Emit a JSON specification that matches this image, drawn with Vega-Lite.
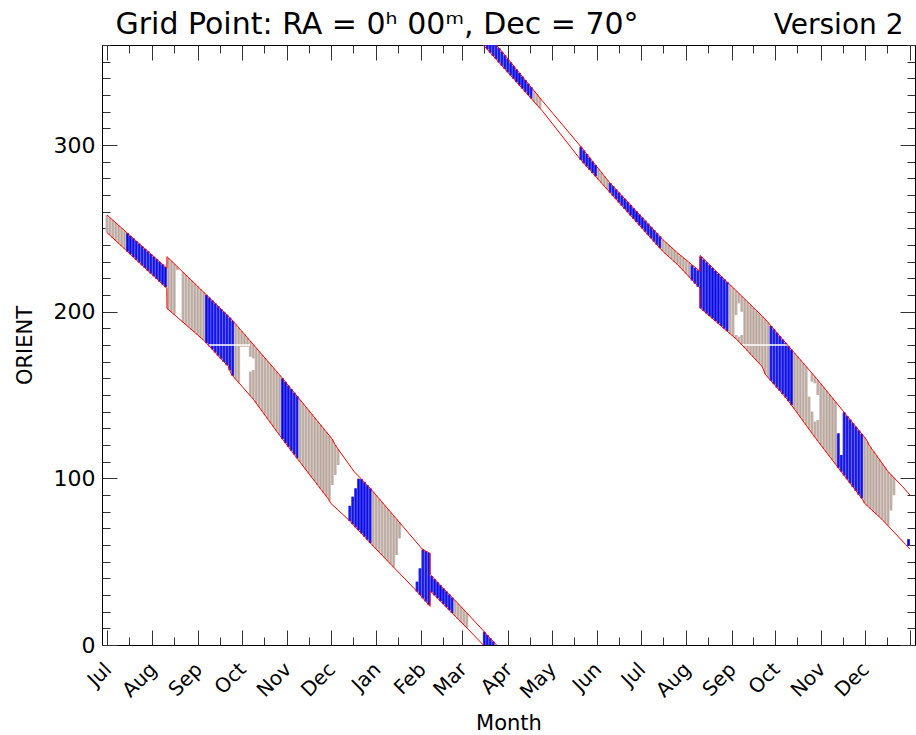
{
  "$schema": "https://vega.github.io/schema/vega-lite/v6.json",
  "width": 813,
  "height": 600,
  "autosize": "none",
  "padding": {"left": 102, "top": 45, "right": 1, "bottom": 90},
  "background": "white",
  "config": {
    "view": {"stroke": null},
    "font": "DejaVu Sans",
    "axis": {"grid": false, "domainColor": "#000000", "domainWidth": 1, "tickColor": "#333333", "tickWidth": 1, "labelColor": "#000000", "titleColor": "#000000", "titleFontWeight": "normal", "labelFont": "DejaVu Sans", "titleFont": "DejaVu Sans", "zindex": 1}
  },
  "datasets": {
    "bars": [
      {"d":0,"lo":247.5,"hi":258,"c":"t"},{"d":2,"lo":245.9,"hi":256.4,"c":"t"},{"d":4,"lo":244.2,"hi":254.9,"c":"t"},{"d":6,"lo":242.6,"hi":253.3,"c":"t"},{"d":8,"lo":240.9,"hi":251.8,"c":"t"},{"d":10,"lo":239.3,"hi":250.2,"c":"t"},{"d":12,"lo":237.7,"hi":248.6,"c":"t"},
      {"d":14,"lo":236.0,"hi":247.1,"c":"b"},{"d":16,"lo":234.4,"hi":245.5,"c":"b"},{"d":18,"lo":232.7,"hi":244.0,"c":"b"},{"d":20,"lo":231.1,"hi":242.4,"c":"b"},{"d":22,"lo":229.5,"hi":240.8,"c":"b"},{"d":24,"lo":227.8,"hi":239.3,"c":"b"},{"d":26,"lo":226.2,"hi":237.7,"c":"b"},{"d":28,"lo":224.5,"hi":236.2,"c":"b"},{"d":30,"lo":222.9,"hi":234.6,"c":"b"},{"d":32,"lo":221.3,"hi":233.0,"c":"b"},{"d":34,"lo":219.6,"hi":231.5,"c":"b"},{"d":36,"lo":218.0,"hi":229.9,"c":"b"},{"d":38,"lo":216.3,"hi":228.4,"c":"b"},{"d":40,"lo":214.7,"hi":226.8,"c":"b"},
      {"d":42,"lo":201.2,"hi":232.2,"c":"t"},{"d":44,"lo":199.7,"hi":230.5,"c":"t"},{"d":46,"lo":198.2,"hi":228.8,"c":"t"},{"d":48,"lo":225.0,"hi":227.1,"c":"t"},{"d":52,"lo":193.6,"hi":223.7,"c":"t"},{"d":54,"lo":192.1,"hi":222.0,"c":"t"},{"d":56,"lo":190.6,"hi":220.3,"c":"t"},{"d":58,"lo":189.1,"hi":218.6,"c":"t"},{"d":60,"lo":187.6,"hi":216.9,"c":"t"},{"d":62,"lo":186.0,"hi":215.2,"c":"t"},{"d":64,"lo":184.5,"hi":213.5,"c":"t"},{"d":66,"lo":183.0,"hi":211.8,"c":"t"},
      {"d":68,"lo":181.1,"hi":210.1,"c":"b"},{"d":70,"lo":179.2,"hi":208.4,"c":"b"},{"d":72,"lo":177.4,"hi":206.7,"c":"b"},{"d":74,"lo":175.5,"hi":205.0,"c":"b"},{"d":76,"lo":173.6,"hi":203.3,"c":"b"},{"d":78,"lo":171.7,"hi":201.6,"c":"b"},{"d":80,"lo":169.8,"hi":199.9,"c":"b"},{"d":82,"lo":167.9,"hi":198.2,"c":"b"},{"d":84,"lo":164.8,"hi":196.4,"c":"b"},{"d":86,"lo":161.5,"hi":194.5,"c":"b"},
      {"d":88,"lo":159.5,"hi":192.5,"c":"t"},{"d":90,"lo":157.5,"hi":190.4,"c":"t"},{"d":92,"lo":179,"hi":188.4,"c":"t"},{"d":94,"lo":179,"hi":186.4,"c":"t"},{"d":96,"lo":179,"hi":184.3,"c":"t"},{"d":98,"lo":149.5,"hi":164,"c":"t"},{"d":98,"lo":173,"hi":182.3,"c":"t"},{"d":100,"lo":147.5,"hi":165,"c":"t"},{"d":100,"lo":172,"hi":180.3,"c":"t"},{"d":102,"lo":145.1,"hi":178.3,"c":"t"},{"d":104,"lo":142.7,"hi":176.2,"c":"t"},{"d":106,"lo":140.3,"hi":174.2,"c":"t"},{"d":108,"lo":137.9,"hi":172.2,"c":"t"},{"d":110,"lo":135.5,"hi":170.1,"c":"t"},{"d":112,"lo":133.1,"hi":168.1,"c":"t"},{"d":114,"lo":130.7,"hi":166.1,"c":"t"},{"d":116,"lo":128.3,"hi":164.1,"c":"t"},{"d":118,"lo":125.9,"hi":162.0,"c":"t"},
      {"d":120,"lo":123.5,"hi":160.0,"c":"b"},{"d":122,"lo":121.2,"hi":157.9,"c":"b"},{"d":124,"lo":118.9,"hi":155.7,"c":"b"},{"d":126,"lo":116.6,"hi":153.6,"c":"b"},{"d":128,"lo":114.3,"hi":151.4,"c":"b"},{"d":130,"lo":112.0,"hi":149.3,"c":"b"},
      {"d":132,"lo":109.8,"hi":147.1,"c":"t"},{"d":134,"lo":107.5,"hi":145.0,"c":"t"},{"d":136,"lo":105.2,"hi":142.8,"c":"t"},{"d":138,"lo":102.9,"hi":140.7,"c":"t"},{"d":140,"lo":100.6,"hi":138.5,"c":"t"},{"d":142,"lo":98.3,"hi":136.4,"c":"t"},{"d":144,"lo":96.0,"hi":134.2,"c":"t"},{"d":146,"lo":93.7,"hi":132.1,"c":"t"},{"d":148,"lo":91.4,"hi":129.9,"c":"t"},{"d":150,"lo":89.1,"hi":127.8,"c":"t"},{"d":152,"lo":86.6,"hi":125.6,"c":"t"},{"d":154,"lo":96,"hi":123.5,"c":"t"},{"d":156,"lo":102,"hi":120.0,"c":"t"},{"d":158,"lo":108,"hi":117.5,"c":"t"},
      {"d":166,"lo":74.4,"hi":83.5,"c":"b"},{"d":168,"lo":72.5,"hi":89,"c":"b"},{"d":170,"lo":70.6,"hi":94,"c":"b"},{"d":172,"lo":68.8,"hi":99.7,"c":"b"},{"d":174,"lo":66.9,"hi":99.5,"c":"b"},{"d":176,"lo":65.0,"hi":97.7,"c":"b"},{"d":178,"lo":63.1,"hi":95.9,"c":"b"},{"d":180,"lo":61.2,"hi":94.0,"c":"b"},
      {"d":182,"lo":59.4,"hi":91.9,"c":"t"},{"d":184,"lo":57.6,"hi":89.9,"c":"t"},{"d":186,"lo":55.8,"hi":87.8,"c":"t"},{"d":188,"lo":53.9,"hi":85.8,"c":"t"},{"d":190,"lo":52.1,"hi":83.7,"c":"t"},{"d":192,"lo":50.3,"hi":81.7,"c":"t"},{"d":194,"lo":48.5,"hi":79.6,"c":"t"},{"d":196,"lo":46.6,"hi":77.6,"c":"t"},{"d":198,"lo":54,"hi":75.5,"c":"t"},{"d":200,"lo":64,"hi":73.5,"c":"t"},
      {"d":212,"lo":32.0,"hi":38,"c":"b"},{"d":214,"lo":30.0,"hi":46,"c":"b"},{"d":216,"lo":28.0,"hi":57.3,"c":"b"},{"d":218,"lo":26.1,"hi":56.3,"c":"b"},{"d":220,"lo":24.1,"hi":55.3,"c":"b"},{"d":222,"lo":31.6,"hi":41.4,"c":"b"},{"d":224,"lo":29.8,"hi":39.5,"c":"b"},{"d":226,"lo":28.1,"hi":37.7,"c":"b"},{"d":228,"lo":26.3,"hi":35.9,"c":"b"},{"d":230,"lo":24.5,"hi":34.0,"c":"b"},{"d":232,"lo":22.7,"hi":32.2,"c":"b"},{"d":234,"lo":20.9,"hi":30.3,"c":"b"},{"d":236,"lo":19.2,"hi":28.5,"c":"b"},
      {"d":238,"lo":17.4,"hi":26.7,"c":"t"},{"d":240,"lo":15.6,"hi":24.8,"c":"t"},{"d":242,"lo":13.8,"hi":23.0,"c":"t"},{"d":244,"lo":12.1,"hi":21.1,"c":"t"},{"d":246,"lo":10.3,"hi":19.3,"c":"t"},
      {"d":258,"lo":0,"hi":7.9,"c":"b"},{"d":260,"lo":0,"hi":6.0,"c":"b"},{"d":262,"lo":0,"hi":4.1,"c":"b"},{"d":264,"lo":0,"hi":2.2,"c":"b"},
      {"d":258,"lo":359.3,"hi":360,"c":"b"},{"d":260,"lo":357.4,"hi":360,"c":"b"},{"d":262,"lo":355.4,"hi":360,"c":"b"},{"d":264,"lo":353.4,"hi":360,"c":"b"},{"d":266,"lo":351.5,"hi":360,"c":"b"},
      {"d":268,"lo":349.5,"hi":358.2,"c":"b"},{"d":270,"lo":347.6,"hi":356.0,"c":"b"},{"d":272,"lo":345.6,"hi":353.9,"c":"b"},{"d":274,"lo":343.6,"hi":351.8,"c":"b"},{"d":276,"lo":341.7,"hi":349.6,"c":"b"},{"d":278,"lo":339.7,"hi":347.5,"c":"b"},{"d":280,"lo":337.7,"hi":345.4,"c":"b"},{"d":282,"lo":335.8,"hi":343.2,"c":"b"},{"d":284,"lo":333.8,"hi":341.1,"c":"b"},{"d":286,"lo":331.9,"hi":339.0,"c":"b"},{"d":288,"lo":329.9,"hi":336.8,"c":"b"},{"d":290,"lo":327.9,"hi":334.7,"c":"b"},
      {"d":292,"lo":326.0,"hi":332.5,"c":"t"},{"d":294,"lo":324.0,"hi":330.4,"c":"t"},{"d":296,"lo":322.1,"hi":328.2,"c":"t"},
      {"d":324,"lo":291.0,"hi":299.0,"c":"b"},{"d":326,"lo":289.0,"hi":296.8,"c":"b"},{"d":328,"lo":287.1,"hi":294.6,"c":"b"},{"d":330,"lo":285.1,"hi":292.4,"c":"b"},{"d":332,"lo":283.2,"hi":290.2,"c":"b"},{"d":334,"lo":281.2,"hi":288.0,"c":"b"},
      {"d":336,"lo":279.2,"hi":285.8,"c":"t"},{"d":338,"lo":277.3,"hi":283.6,"c":"t"},{"d":340,"lo":275.3,"hi":281.4,"c":"t"},{"d":342,"lo":273.4,"hi":279.2,"c":"t"},
      {"d":344,"lo":271.4,"hi":277.2,"c":"b"},{"d":346,"lo":269.5,"hi":275.3,"c":"b"},{"d":348,"lo":267.5,"hi":273.4,"c":"b"},{"d":350,"lo":265.5,"hi":271.5,"c":"b"},{"d":352,"lo":263.6,"hi":269.6,"c":"b"},{"d":354,"lo":261.6,"hi":267.8,"c":"b"},{"d":356,"lo":259.7,"hi":265.9,"c":"b"},{"d":358,"lo":257.7,"hi":264.0,"c":"b"},{"d":360,"lo":255.7,"hi":262.1,"c":"b"},{"d":362,"lo":253.8,"hi":260.3,"c":"b"},{"d":364,"lo":251.8,"hi":258.4,"c":"b"},{"d":366,"lo":249.9,"hi":256.5,"c":"b"},{"d":368,"lo":247.9,"hi":254.6,"c":"b"},{"d":370,"lo":245.9,"hi":252.8,"c":"b"},{"d":372,"lo":244.0,"hi":250.9,"c":"b"},{"d":374,"lo":242.0,"hi":249.0,"c":"b"},{"d":376,"lo":240.1,"hi":247.1,"c":"b"},{"d":378,"lo":238.1,"hi":245.2,"c":"b"},
      {"d":380,"lo":236.2,"hi":243.2,"c":"t"},{"d":382,"lo":234.6,"hi":241.6,"c":"t"},{"d":384,"lo":233.1,"hi":240.1,"c":"t"},{"d":386,"lo":231.5,"hi":238.5,"c":"t"},{"d":388,"lo":229.9,"hi":236.9,"c":"t"},{"d":390,"lo":228.3,"hi":235.3,"c":"t"},{"d":392,"lo":226.4,"hi":233.8,"c":"t"},{"d":394,"lo":224.5,"hi":232.3,"c":"t"},{"d":396,"lo":222.6,"hi":230.8,"c":"t"},{"d":398,"lo":220.6,"hi":229.3,"c":"t"},
      {"d":400,"lo":218.7,"hi":227.8,"c":"b"},{"d":402,"lo":216.8,"hi":226.3,"c":"b"},{"d":404,"lo":214.9,"hi":224.8,"c":"b"},
      {"d":406,"lo":202.0,"hi":233.0,"c":"b"},{"d":408,"lo":200.5,"hi":231.3,"c":"b"},{"d":410,"lo":198.9,"hi":229.6,"c":"b"},{"d":412,"lo":197.4,"hi":227.9,"c":"b"},{"d":414,"lo":195.9,"hi":226.2,"c":"b"},{"d":416,"lo":194.4,"hi":224.5,"c":"b"},{"d":418,"lo":192.9,"hi":222.8,"c":"b"},{"d":420,"lo":191.4,"hi":221.1,"c":"b"},{"d":422,"lo":189.8,"hi":219.4,"c":"b"},{"d":424,"lo":188.3,"hi":217.7,"c":"b"},
      {"d":426,"lo":186.8,"hi":216.0,"c":"t"},{"d":428,"lo":185.3,"hi":214.3,"c":"t"},{"d":430,"lo":183.8,"hi":186,"c":"t"},{"d":430,"lo":198,"hi":212.6,"c":"t"},{"d":432,"lo":182.1,"hi":185,"c":"t"},{"d":432,"lo":205,"hi":210.9,"c":"t"},{"d":434,"lo":180.2,"hi":186,"c":"t"},{"d":434,"lo":200,"hi":209.2,"c":"t"},{"d":436,"lo":178.3,"hi":207.5,"c":"t"},{"d":438,"lo":176.4,"hi":205.8,"c":"t"},{"d":440,"lo":174.5,"hi":204.1,"c":"t"},{"d":442,"lo":172.7,"hi":202.4,"c":"t"},{"d":444,"lo":170.8,"hi":200.7,"c":"t"},{"d":446,"lo":168.9,"hi":199.0,"c":"t"},{"d":448,"lo":167.0,"hi":197.3,"c":"t"},{"d":450,"lo":162.5,"hi":195.5,"c":"t"},{"d":452,"lo":160.5,"hi":193.5,"c":"t"},
      {"d":454,"lo":158.5,"hi":191.4,"c":"b"},{"d":456,"lo":156.5,"hi":189.4,"c":"b"},{"d":458,"lo":154.5,"hi":187.4,"c":"b"},{"d":460,"lo":152.5,"hi":185.4,"c":"b"},{"d":462,"lo":150.5,"hi":183.3,"c":"b"},{"d":464,"lo":148.5,"hi":181.3,"c":"b"},{"d":466,"lo":146.3,"hi":179.3,"c":"b"},{"d":468,"lo":143.9,"hi":177.2,"c":"b"},
      {"d":470,"lo":141.5,"hi":175.2,"c":"t"},{"d":472,"lo":139.1,"hi":173.2,"c":"t"},{"d":474,"lo":136.7,"hi":171.2,"c":"t"},{"d":476,"lo":134.3,"hi":169.1,"c":"t"},{"d":478,"lo":131.9,"hi":167.1,"c":"t"},{"d":480,"lo":129.5,"hi":149,"c":"t"},{"d":482,"lo":127.1,"hi":140,"c":"t"},{"d":482,"lo":158,"hi":163.0,"c":"t"},{"d":484,"lo":124.7,"hi":134,"c":"t"},{"d":484,"lo":157,"hi":161.0,"c":"t"},{"d":486,"lo":122.4,"hi":135,"c":"t"},{"d":486,"lo":150,"hi":158.9,"c":"t"},{"d":488,"lo":120.1,"hi":156.8,"c":"t"},{"d":490,"lo":117.8,"hi":154.6,"c":"t"},{"d":492,"lo":115.5,"hi":152.5,"c":"t"},{"d":494,"lo":113.2,"hi":150.3,"c":"t"},{"d":496,"lo":110.9,"hi":148.2,"c":"t"},{"d":498,"lo":108.6,"hi":146.0,"c":"t"},
      {"d":500,"lo":106.3,"hi":127,"c":"b"},{"d":502,"lo":104.0,"hi":114,"c":"b"},{"d":504,"lo":101.7,"hi":139.6,"c":"b"},{"d":506,"lo":99.4,"hi":137.4,"c":"b"},{"d":508,"lo":97.1,"hi":135.3,"c":"b"},{"d":510,"lo":94.8,"hi":133.1,"c":"b"},{"d":512,"lo":92.5,"hi":131.0,"c":"b"},{"d":514,"lo":90.2,"hi":128.8,"c":"b"},{"d":516,"lo":88.0,"hi":126.7,"c":"b"},
      {"d":518,"lo":85.0,"hi":124.6,"c":"t"},{"d":520,"lo":83.4,"hi":121.8,"c":"t"},{"d":522,"lo":81.8,"hi":118.8,"c":"t"},{"d":524,"lo":80.1,"hi":116.3,"c":"t"},{"d":526,"lo":78.5,"hi":113.8,"c":"t"},{"d":528,"lo":76.9,"hi":111.4,"c":"t"},{"d":530,"lo":75.3,"hi":108.9,"c":"t"},{"d":532,"lo":73.4,"hi":106.5,"c":"t"},{"d":534,"lo":71.6,"hi":104.0,"c":"t"},{"d":536,"lo":80.7,"hi":102.2,"c":"t"},{"d":538,"lo":89.9,"hi":100.4,"c":"t"},
      {"d":548,"lo":59.5,"hi":63.5,"c":"b"}
    ],
    "env": [
      {"s":"au","d":0,"v":258},{"s":"au","d":40.9,"v":226.1},{"s":"au","d":41,"v":233},{"s":"au","d":83,"v":197.3},{"s":"au","d":85,"v":195.5},{"s":"au","d":120,"v":160},{"s":"au","d":154,"v":123.5},{"s":"au","d":156,"v":120},{"s":"au","d":169,"v":104},{"s":"au","d":179,"v":95},{"s":"au","d":215.6,"v":57.5},{"s":"au","d":220.9,"v":54.9},{"s":"au","d":221,"v":42.3},{"s":"au","d":246,"v":19.3},{"s":"au","d":266.3,"v":0},
      {"s":"al","d":0,"v":247.5},{"s":"al","d":40.9,"v":214},{"s":"al","d":41,"v":202},{"s":"al","d":66,"v":183},{"s":"al","d":83,"v":167},{"s":"al","d":85,"v":162.5},{"s":"al","d":100,"v":147.5},{"s":"al","d":120,"v":123.5},{"s":"al","d":151.6,"v":87.3},{"s":"al","d":153,"v":85},{"s":"al","d":165,"v":75.3},{"s":"al","d":181,"v":60.3},{"s":"al","d":211,"v":33},{"s":"al","d":220.9,"v":23.2},{"s":"al","d":221,"v":32.5},{"s":"al","d":246,"v":10.3},{"s":"al","d":257.3,"v":0},
      {"s":"bu","d":266.3,"v":360},{"s":"bu","d":297.8,"v":326.3},{"s":"bu","d":323.7,"v":299.3},{"s":"bu","d":342.8,"v":278.3},{"s":"bu","d":379.9,"v":243.3},{"s":"bu","d":390,"v":235.3},{"s":"bu","d":405.4,"v":224.2},{"s":"bu","d":405.5,"v":233.7},{"s":"bu","d":448,"v":197.3},{"s":"bu","d":450,"v":195.5},{"s":"bu","d":485,"v":160},{"s":"bu","d":519,"v":123.5},{"s":"bu","d":521,"v":120},{"s":"bu","d":534,"v":104},{"s":"bu","d":544,"v":95},{"s":"bu","d":549,"v":89.9},
      {"s":"bl","d":257.3,"v":360},{"s":"bl","d":297.8,"v":320.3},{"s":"bl","d":323.7,"v":291.3},{"s":"bl","d":379.9,"v":236.3},{"s":"bl","d":390,"v":228.3},{"s":"bl","d":405.4,"v":214.2},{"s":"bl","d":405.5,"v":202.3},{"s":"bl","d":431,"v":183},{"s":"bl","d":448,"v":167},{"s":"bl","d":450,"v":162.5},{"s":"bl","d":465,"v":147.5},{"s":"bl","d":485,"v":123.5},{"s":"bl","d":516.6,"v":87.3},{"s":"bl","d":518,"v":85},{"s":"bl","d":530,"v":75.3},{"s":"bl","d":546,"v":60.3},{"s":"bl","d":549,"v":57.6}
    ],
    "gaps": [
      {"d":69.5,"d2":97.8,"v":180},
      {"d":434,"d2":468,"v":180}
    ]
  },
  "layer": [
    {
      "data": {"name": "bars"},
      "mark": {"type": "bar", "width": 3},
      "encoding": {
        "x": {
          "field": "d", "type": "quantitative",
          "scale": {"domain": [0, 549], "nice": false, "zero": false},
          "axis": {
            "orient": "bottom",
            "values": [0,15,31,46,62,77,92,107,123,138,153,168,184,199,215,230,243,258,274,289,304,319,335,350,365,380,396,411,427,442,457,472,488,503,518,533,549],
            "tickSize": {"condition": {"test": "indexof([0,31,62,92,123,153,184,215,243,274,304,335,365,396,427,457,488,518,549], datum.value) >= 0", "value": -15}, "value": -8},
            "labelExpr": "indexof([0,31,62,92,123,153,184,215,243,274,304,335,365,396,427,457,488,518], datum.value) >= 0 ? ['Jul','Aug','Sep','Oct','Nov','Dec','Jan','Feb','Mar','Apr','May','Jun','Jul','Aug','Sep','Oct','Nov','Dec'][indexof([0,31,62,92,123,153,184,215,243,274,304,335,365,396,427,457,488,518], datum.value)] : ''",
            "labelAngle": -45,
            "labelAlign": "right",
            "labelBaseline": "middle",
            "labelFontSize": 20,
            "labelPadding": 36,
            "labelOffset": 1,
            "labelOverlap": false,
            "labelFlush": false,
            "title": "Month",
            "titleFontSize": 21,
            "titlePadding": 10
          }
        },
        "y": {
          "field": "lo", "type": "quantitative",
          "scale": {"domain": [0, 360], "nice": false, "zero": false},
          "axis": {
            "orient": "left",
            "values": [0,10,20,30,40,50,60,70,80,90,100,110,120,130,140,150,160,170,180,190,200,210,220,230,240,250,260,270,280,290,300,310,320,330,340,350,360],
            "tickSize": {"condition": {"test": "datum.value % 100 === 0", "value": -15}, "value": -8},
            "labelExpr": "datum.value % 100 === 0 ? datum.label : ''",
            "labelFontSize": 22,
            "labelPadding": 22,
            "labelOverlap": false,
            "labelFlush": false,
            "title": "ORIENT",
            "titleFontSize": 21,
            "titlePadding": 18
          }
        },
        "y2": {"field": "hi"},
        "color": {"condition": {"test": "datum.c === 'b'", "value": "#3333ff"}, "value": "#cbbcb4"}
      }
    },
    {
      "data": {"name": "bars"},
      "mark": {"type": "rule", "strokeWidth": 0.8},
      "encoding": {
        "x": {"field": "d", "type": "quantitative", "scale": {"domain": [0, 549], "nice": false, "zero": false}, "axis": null},
        "y": {"field": "lo", "type": "quantitative", "scale": {"domain": [0, 360], "nice": false, "zero": false}, "axis": null},
        "y2": {"field": "hi"},
        "color": {"condition": {"test": "datum.c === 'b'", "value": "#0000b8"}, "value": "#ae9e96"}
      }
    },
    {
      "data": {"name": "gaps"},
      "mark": {"type": "rule", "color": "#ffffff", "strokeWidth": 1.3},
      "encoding": {
        "x": {
          "field": "d", "type": "quantitative",
          "scale": {"domain": [0, 549], "nice": false, "zero": false},
          "axis": {"orient": "top", "ticks": false, "labels": false, "domain": false, "title": "Version 2", "titleFontSize": 28, "titleX": 801, "titleY": -12, "titleAlign": "right", "titleBaseline": "alphabetic", "titleAngle": 0}
        },
        "x2": {"field": "d2"},
        "y": {"field": "v", "type": "quantitative", "scale": {"domain": [0, 360], "nice": false, "zero": false}, "axis": null}
      }
    },
    {
      "data": {"name": "env"},
      "mark": {"type": "line", "color": "#ff0000", "strokeWidth": 1},
      "encoding": {
        "x": {
          "field": "d", "type": "quantitative",
          "scale": {"domain": [0, 549], "nice": false, "zero": false},
          "axis": {
            "orient": "top",
            "values": [0,15,31,46,62,77,92,107,123,138,153,168,184,199,215,230,243,258,274,289,304,319,335,350,365,380,396,411,427,442,457,472,488,503,518,533,549],
            "tickSize": {"condition": {"test": "indexof([0,31,62,92,123,153,184,215,243,274,304,335,365,396,427,457,488,518,549], datum.value) >= 0", "value": -15}, "value": -8},
            "labels": false,
            "title": "Grid Point: RA = 0ʰ 00ᵐ, Dec = 70°",
            "titleFontSize": 30,
            "titleX": 13,
            "titleY": -12,
            "titleAlign": "left",
            "titleBaseline": "alphabetic",
            "titleAngle": 0
          }
        },
        "y": {
          "field": "v", "type": "quantitative",
          "scale": {"domain": [0, 360], "nice": false, "zero": false},
          "axis": {
            "orient": "right",
            "values": [0,10,20,30,40,50,60,70,80,90,100,110,120,130,140,150,160,170,180,190,200,210,220,230,240,250,260,270,280,290,300,310,320,330,340,350,360],
            "tickSize": {"condition": {"test": "datum.value % 100 === 0", "value": -15}, "value": -8},
            "labels": false,
            "title": null
          }
        },
        "detail": {"field": "s", "type": "nominal"}
      }
    }
  ],
  "resolve": {"axis": {"x": "independent", "y": "independent"}}
}
